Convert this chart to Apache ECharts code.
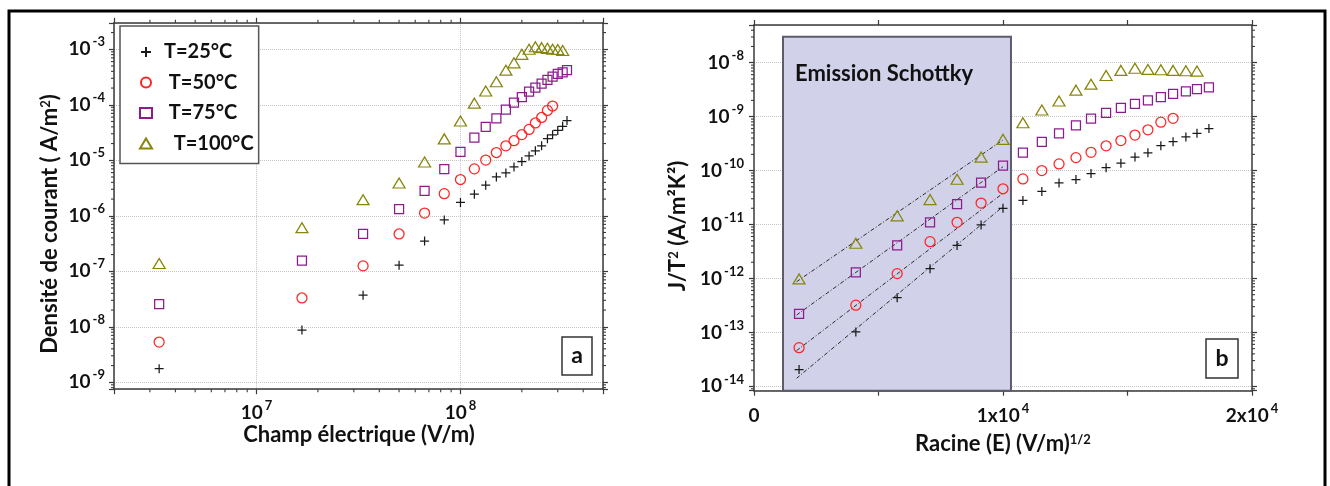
<!DOCTYPE html>
<html><head><meta charset="utf-8">
<script src="https://cdn.jsdelivr.net/npm/echarts@6/dist/echarts.min.js"></script>
<style>html,body{margin:0;padding:0;background:#fff}#c{width:1330px;height:486px}</style>
</head><body><div id="c"></div>
<script>
// ---------- data ----------
const seriesNames = ['T=25°C', ' T=50°C', ' T=75°C', '  T=100°C'];
// Panel a: electric field E (V/m)
const fieldE = [3.33e6, 1.67e7, 3.33e7, 5.0e7, 6.67e7, 8.33e7, 1.0e8, 1.17e8, 1.33e8, 1.5e8, 1.67e8,
                1.83e8, 2.0e8, 2.17e8, 2.33e8, 2.5e8, 2.67e8, 2.83e8, 3.0e8, 3.17e8, 3.33e8];
const J25  = [1.76e-9, 8.7e-9, 3.7e-8, 1.29e-7, 3.5e-7, 8.4e-7, 1.74e-6, 2.45e-6, 3.55e-6, 5.0e-6, 5.9e-6,
              7.6e-6, 9.5e-6, 1.2e-5, 1.48e-5, 1.82e-5, 2.45e-5, 2.87e-5, 3.45e-5, 4.1e-5, 5.2e-5];
const J50  = [5.3e-9, 3.3e-8, 1.25e-7, 4.7e-7, 1.12e-6, 2.5e-6, 4.5e-6, 7.0e-6, 1.01e-5, 1.38e-5, 1.82e-5,
              2.25e-5, 2.9e-5, 3.6e-5, 4.7e-5, 5.9e-5, 7.9e-5, 9.5e-5];
const J75  = [2.57e-8, 1.55e-7, 4.7e-7, 1.32e-6, 2.8e-6, 6.9e-6, 1.42e-5, 2.56e-5, 4.0e-5, 5.7e-5, 8.2e-5,
              1.09e-4, 1.38e-4, 1.72e-4, 2.04e-4, 2.4e-4, 2.8e-4, 3.2e-4, 3.6e-4, 3.85e-4, 4.2e-4];
const J100 = [1.38e-7, 6.1e-7, 1.95e-6, 3.9e-6, 9.3e-6, 2.43e-5, 5.1e-5, 1.07e-4, 1.77e-4, 2.6e-4, 4.2e-4,
              5.7e-4, 8.1e-4, 1.0e-3, 1.11e-3, 1.07e-3, 1.04e-3, 1.0e-3, 0.99e-3, 0.95e-3];
// Panel b: root of E ((V/m)^1/2)
const rootE = [1810, 4090, 5750, 7070, 8155, 9120, 10000, 10800, 11560, 12250, 12930,
               13535, 14140, 14735, 15300, 15820, 16340, 16830, 17345, 17790, 18270];
const JT25  = [2.05e-14, 1.02e-13, 4.4e-13, 1.52e-12, 4.1e-12, 9.8e-12, 2.0e-11, 2.8e-11, 4.1e-11, 5.9e-11, 6.8e-11,
               8.8e-11, 1.13e-10, 1.37e-10, 1.78e-10, 2.14e-10, 2.9e-10, 3.44e-10, 4.2e-10, 4.9e-10, 6.0e-10];
const JT50  = [5.2e-14, 3.2e-13, 1.23e-12, 4.8e-12, 1.1e-11, 2.5e-11, 4.6e-11, 7.0e-11, 1.0e-10, 1.33e-10, 1.74e-10,
               2.18e-10, 2.88e-10, 3.6e-10, 4.55e-10, 5.7e-10, 7.9e-10, 9.3e-10];
const JT75  = [2.2e-13, 1.3e-12, 4.1e-12, 1.1e-11, 2.4e-11, 6.0e-11, 1.23e-10, 2.15e-10, 3.4e-10, 4.9e-10, 6.9e-10,
               9.2e-10, 1.17e-9, 1.45e-9, 1.72e-9, 2.0e-9, 2.3e-9, 2.63e-9, 2.95e-9, 3.25e-9, 3.5e-9];
const JT100 = [9.8e-13, 4.5e-12, 1.45e-11, 2.9e-11, 6.9e-11, 1.78e-10, 3.8e-10, 7.7e-10, 1.33e-9, 1.95e-9, 3.1e-9,
               4.0e-9, 5.8e-9, 7.2e-9, 7.9e-9, 7.5e-9, 7.4e-9, 7.2e-9, 7.1e-9, 7.0e-9];
// Schottky fit lines (endpoints)
const fitX   = [1710, 10000];
const fit25  = [1.41e-14, 2.15e-11];
const fit50  = [4.6e-14, 3.8e-11];
const fit75  = [2.1e-13, 1.18e-10];
const fit100 = [8.7e-13, 3.7e-10];
// Schottky region [x0, x1] and top
const schottkyX = [1165, 10320];
const schottkyTop = 3.03e-8;
// Axis ranges, tick values and tick labels
const axA = {xMin: 2e6, xMax: 5e8, yMin: 7.5e-10, yMax: 3e-3};
const axB = {xMin: 0, xMax: 20000, xStep: 5000, yMin: 8.3e-15, yMax: 5e-8};
const xTicksA = [1e7, 1e8];
const xTickLabelsA = ['10{s|7}', '10{s|8}'];
const yTicksA = [1e-9, 1e-8, 1e-7, 1e-6, 1e-5, 1e-4, 1e-3];
const yTickLabelsA = ['10{s|-9}', '10{s|-8}', '10{s|-7}', '10{s|-6}', '10{s|-5}', '10{s|-4}', '10{s|-3}'];
const xTicksB = [0, 10000, 20000];
const xTickLabelsB = ['0', '1x10{s|4}', '2x10{s|4}'];
const yTicksB = [1e-14, 1e-13, 1e-12, 1e-11, 1e-10, 1e-9, 1e-8];
const yTickLabelsB = ['10{s|-14}', '10{s|-13}', '10{s|-12}', '10{s|-11}', '10{s|-10}', '10{s|-9}', '10{s|-8}'];
const minorMult = [2, 3, 4, 5, 6, 7, 8, 9];
const decadesAx = [6, 7, 8];
const decadesAy = [-10, -9, -8, -7, -6, -5, -4, -3];
const decadesBy = [-15, -14, -13, -12, -11, -10, -9, -8];

// ---------- chart ----------
const FONT = 'Lato';
const INK = '#111';
const AXC = '#3a3a3a';
const colors = ['#1a1a1a', '#ff2424', '#8c1c8c', '#86860c'];
const plusPath = 'path://M0,5L10,5M5,0L5,10';
const symbols = [plusPath, 'circle', 'rect', 'triangle'];
const sizes = [9, 10, 9, [12, 10]];
const supRich = {s: {fontSize: 13, fontWeight: 'bold', fontFamily: FONT, fill: INK, verticalAlign: 'top',
  padding: [0, 0, 0, 2]}};

function mainAxis(extra) {
  return Object.assign({
    axisLine: {show: true, onZero: false, lineStyle: {color: AXC, width: 1.5}},
    axisTick: {show: true, length: 5, inside: false, lineStyle: {color: AXC, width: 1.2}},
    splitLine: {show: true, lineStyle: {type: 'dotted', color: '#c4c4c4', width: 1}},
    axisLabel: {show: false}
  }, extra);
}
function mirrorAxis(extra) {
  return Object.assign({
    axisLine: {show: true, onZero: false, lineStyle: {color: AXC, width: 1.5}},
    axisTick: {show: true, length: 5, inside: false, lineStyle: {color: AXC, width: 1.2}},
    splitLine: {show: false},
    axisLabel: {show: false}
  }, extra);
}
function zip(xs, ys) { return ys.map((y, i) => [xs[i], y]); }
function minorValues(decades, lo, hi) {
  const out = [];
  decades.forEach(d => minorMult.forEach(m => {
    const v = m * Math.pow(10, d);
    if (v > lo && v < hi) out.push(v);
  }));
  return out;
}

const leftData = [J25, J50, J75, J100];
const rightData = [JT25, JT50, JT75, JT100];
const fits = [fit25, fit50, fit75, fit100];

const series = [];
leftData.forEach((d, i) => series.push({
  type: 'scatter', name: seriesNames[i], xAxisIndex: 0, yAxisIndex: 0,
  symbol: symbols[i], symbolSize: sizes[i], data: zip(fieldE, d), z: 5,
  itemStyle: {color: 'rgba(0,0,0,0)', borderColor: colors[i], borderWidth: 1.25, opacity: 1},
  emphasis: {disabled: true}
}));
series.push({
  type: 'line', name: 'region', xAxisIndex: 2, yAxisIndex: 2, data: [], silent: true,
  markArea: {silent: true,
    itemStyle: {color: '#d1d1e9', borderColor: '#5c5c6c', borderWidth: 2},
    data: [[{coord: [schottkyX[0], schottkyTop]}, {coord: [schottkyX[1], axB.yMin]}]]}
});
fits.forEach((f, i) => series.push({
  type: 'line', name: 'fit' + i, xAxisIndex: 2, yAxisIndex: 2, data: zip(fitX, f),
  symbol: 'none', silent: true, z: 3,
  lineStyle: {color: '#2a2a2a', width: 1, type: [4, 2, 1, 2]}
}));
rightData.forEach((d, i) => series.push({
  type: 'scatter', name: seriesNames[i], xAxisIndex: 2, yAxisIndex: 2,
  symbol: symbols[i], symbolSize: sizes[i], data: zip(rootE, d), z: 5,
  itemStyle: {color: 'rgba(0,0,0,0)', borderColor: colors[i], borderWidth: 1.25, opacity: 1},
  emphasis: {disabled: true}
}));

// minor log ticks (positions through the axis scales)
function minorTickSeries(xIdx, yIdx, dir, values, fixed) {
  const data = values.map(v => dir === 'y' ? [fixed[0], v, fixed[1]] : [v, fixed[0], fixed[1]]);
  return {
    type: 'custom', xAxisIndex: xIdx, yAxisIndex: yIdx, silent: true, z: 4, clip: false,
    data: data, encode: {x: 0, y: 1},
    renderItem: function (params, api) {
      const a = api.coord([api.value(0), api.value(1)]);
      const b = dir === 'y' ? api.coord([api.value(2), api.value(1)]) : api.coord([api.value(0), api.value(2)]);
      const L = 3;
      const st = {stroke: AXC, lineWidth: 1.1};
      if (dir === 'y') {
        return {type: 'group', children: [
          {type: 'line', shape: {x1: a[0] - L, y1: a[1], x2: a[0], y2: a[1]}, style: st},
          {type: 'line', shape: {x1: b[0], y1: b[1], x2: b[0] + L, y2: b[1]}, style: st}
        ]};
      }
      return {type: 'group', children: [
        {type: 'line', shape: {x1: a[0], y1: a[1], x2: a[0], y2: a[1] + L}, style: st},
        {type: 'line', shape: {x1: b[0], y1: b[1] - L, x2: b[0], y2: b[1]}, style: st}
      ]};
    }
  };
}
series.push(minorTickSeries(0, 0, 'y', minorValues(decadesAy, axA.yMin, axA.yMax), [axA.xMin, axA.xMax]));
series.push(minorTickSeries(0, 0, 'x', minorValues(decadesAx, axA.xMin, axA.xMax), [axA.yMin, axA.yMax]));
series.push(minorTickSeries(2, 2, 'y', minorValues(decadesBy, axB.yMin, axB.yMax), [axB.xMin, axB.xMax]));

// tick labels (positions through the axis scales)
function tickLabelSeries(xIdx, yIdx, dir, values, labels, fixedVal, offset) {
  const data = values.map(v => dir === 'y' ? [fixedVal, v] : [v, fixedVal]);
  return {
    type: 'custom', xAxisIndex: xIdx, yAxisIndex: yIdx, silent: true, z: 6, clip: false,
    data: data, encode: {x: 0, y: 1},
    renderItem: function (params, api) {
      const p = api.coord([api.value(0), api.value(1)]);
      return {
        type: 'text',
        x: dir === 'y' ? p[0] - offset : p[0],
        y: dir === 'y' ? p[1] : p[1] + offset,
        style: {
          text: labels[params.dataIndex], fontFamily: FONT, fontWeight: 'bold', fontSize: 19, fill: INK,
          lineHeight: 27, align: dir === 'y' ? 'right' : 'center', verticalAlign: 'middle', rich: supRich
        }
      };
    }
  };
}
series.push(tickLabelSeries(0, 0, 'y', yTicksA, yTickLabelsA, axA.xMin, 9));
series.push(tickLabelSeries(0, 0, 'x', xTicksA, xTickLabelsA, axA.yMin, 24));
series.push(tickLabelSeries(2, 2, 'y', yTicksB, yTickLabelsB, axB.xMin, 10));
series.push(tickLabelSeries(2, 2, 'x', xTicksB, xTickLabelsB, axB.yMin, 25));

function txt(x, y, text, opts) {
  return {type: 'text', x: x, y: y, z: 100, silent: true,
    style: Object.assign({text: text, fontFamily: FONT, fontWeight: 'bold', fontSize: 22, fill: INK,
      align: 'center', verticalAlign: 'middle', rich: {
        s: {fontSize: 13, fontWeight: 'bold', fontFamily: FONT, fill: INK, verticalAlign: 'top'}
      }}, opts || {})};
}

const option = {
  animation: false,
  backgroundColor: '#fff',
  grid: [
    {left: 114, top: 22.8, width: 489, height: 366.4, containLabel: false},
    {left: 754, top: 25, width: 498, height: 365.7, containLabel: false}
  ],
  xAxis: [
    mainAxis({gridIndex: 0, type: 'log', min: axA.xMin, max: axA.xMax, position: 'bottom'}),
    mirrorAxis({gridIndex: 0, type: 'log', min: axA.xMin, max: axA.xMax, position: 'top'}),
    mainAxis({gridIndex: 1, type: 'value', min: axB.xMin, max: axB.xMax, interval: axB.xStep, position: 'bottom',
      splitLine: {show: false}}),
    mirrorAxis({gridIndex: 1, type: 'value', min: axB.xMin, max: axB.xMax, interval: axB.xStep, position: 'top'})
  ],
  yAxis: [
    mainAxis({gridIndex: 0, type: 'log', min: axA.yMin, max: axA.yMax, position: 'left'}),
    mirrorAxis({gridIndex: 0, type: 'log', min: axA.yMin, max: axA.yMax, position: 'right'}),
    mainAxis({gridIndex: 1, type: 'log', min: axB.yMin, max: axB.yMax, position: 'left'}),
    mirrorAxis({gridIndex: 1, type: 'log', min: axB.yMin, max: axB.yMax, position: 'right'})
  ],
  legend: {
    data: seriesNames, orient: 'vertical', left: 120, top: 26,
    itemWidth: 12, itemHeight: 10, itemGap: 10.5,
    padding: [16, 5, 10, 19],
    backgroundColor: '#fff', borderColor: '#555', borderWidth: 1.5,
    selectedMode: false,
    textStyle: {fontFamily: FONT, fontWeight: 'bold', fontSize: 20, color: INK, lineHeight: 20, padding: [0, 0, 0, 7]}
  },
  series: series,
  graphic: [
    {type: 'rect', z: 100, silent: true, shape: {x: 9, y: 11, width: 1316, height: 500},
      style: {fill: 'none', stroke: '#000', lineWidth: 3}},
    {type: 'rect', z: 100, silent: true, shape: {x: 562, y: 337, width: 30, height: 38},
      style: {fill: '#fff', stroke: '#333', lineWidth: 1.5}},
    txt(577, 356, 'a', {fontSize: 23}),
    {type: 'rect', z: 100, silent: true, shape: {x: 1206, y: 339, width: 32, height: 39},
      style: {fill: '#fff', stroke: '#333', lineWidth: 1.5}},
    txt(1222, 358.5, 'b', {fontSize: 23}),
    txt(795, 74, 'Emission Schottky', {align: 'left'}),
    txt(359, 435, 'Champ électrique (V/m)'),
    txt(1003, 444, 'Racine (E) (V/m){s|1/2}'),
    Object.assign(txt(50, 224, 'Densité de courant ( A/m{s|2})'), {rotation: Math.PI / 2}),
    Object.assign(txt(678, 226, 'J/T{s|2} (A/m²K²)'), {rotation: Math.PI / 2})
  ]
};
const chart = echarts.init(document.getElementById('c'), null, {renderer: 'canvas'});
chart.setOption(option);
</script></body></html>
